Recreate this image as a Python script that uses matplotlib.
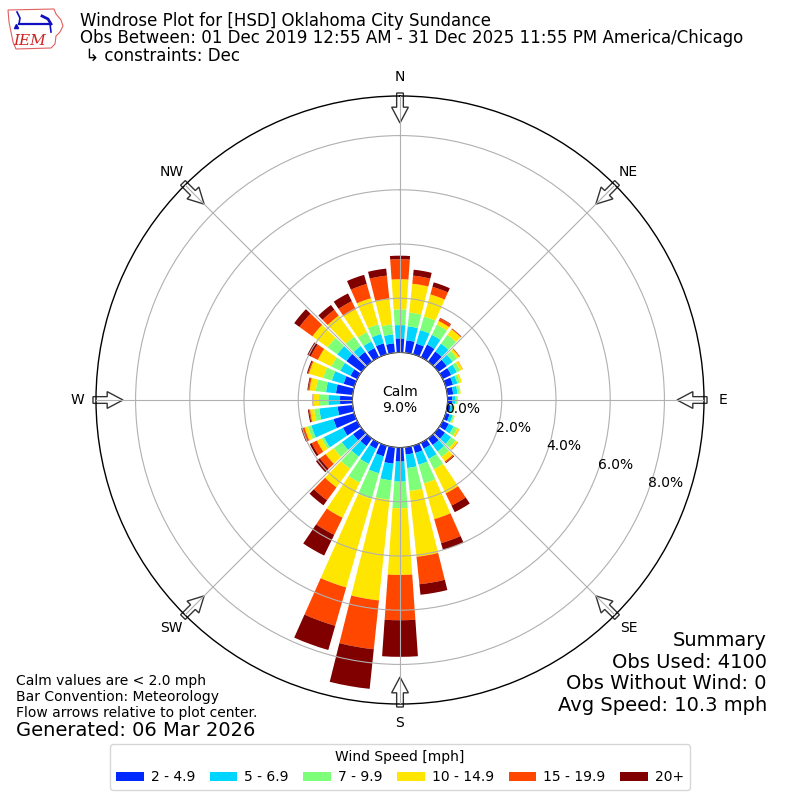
import numpy as np
import matplotlib
matplotlib.use("Agg")
import matplotlib.pyplot as plt
from matplotlib.patches import FancyArrow, Polygon

# ---------------- data (percent of observations) ----------------
directions = list(range(0, 360, 10))
speed_labels = ["2 - 4.9", "5 - 6.9", "7 - 9.9", "10 - 14.9", "15 - 19.9", "20+"]
spd_2_5 = [0.52, 0.46, 0.41, 0.52, 0.46, 0.38, 0.35, 0.28, 0.22, 0.18, 0.12, 0.15,
           0.25, 0.30, 0.30, 0.24, 0.28, 0.27, 0.52, 0.61, 0.41, 0.25, 0.35, 0.39,
           0.59, 0.80, 0.56, 0.46, 0.62, 0.41, 0.28, 0.69, 0.44, 0.38, 0.42, 0.35]
spd_5_7 = [0.49, 0.52, 0.52, 0.40, 0.36, 0.27, 0.23, 0.17, 0.16, 0.12, 0.10, 0.12,
           0.20, 0.28, 0.30, 0.42, 0.45, 0.50, 0.74, 0.62, 0.65, 0.62, 0.48, 0.51,
           0.78, 0.85, 0.68, 0.43, 0.37, 0.45, 0.42, 0.42, 0.27, 0.27, 0.36, 0.33]
spd_7_10 = [0.58, 0.51, 0.52, 0.42, 0.40, 0.20, 0.14, 0.10, 0.08, 0.05, 0.04, 0.05,
            0.15, 0.20, 0.25, 0.43, 0.72, 0.85, 0.98, 0.72, 0.98, 0.77, 0.55, 0.37,
            0.10, 0.13, 0.19, 0.35, 0.38, 0.33, 0.36, 0.44, 0.42, 0.38, 0.37, 0.37]
spd_10_15 = [1.11, 1.07, 0.85, 0.15, 0.25, 0.10, 0.10, 0.07, 0.04, 0.03, 0.02, 0.03,
             0.08, 0.10, 0.20, 0.99, 1.37, 2.44, 2.46, 3.73, 3.40, 1.44, 0.85, 0.37,
             0.19, 0.13, 0.15, 0.21, 0.23, 0.55, 0.56, 0.69, 0.96, 0.94, 1.00, 0.96]
spd_15_20 = [0.74, 0.30, 0.29, 0.11, 0.03, 0.03, 0.01, 0.00, 0.00, 0.00, 0.00, 0.00,
             0.01, 0.02, 0.05, 0.50, 0.92, 1.02, 1.67, 1.81, 1.47, 0.70, 0.59, 0.26,
             0.21, 0.07, 0.04, 0.01, 0.05, 0.04, 0.29, 0.59, 0.27, 0.33, 0.55, 0.85]
spd_20p = [0.13, 0.22, 0.17, 0.02, 0.01, 0.00, 0.00, 0.00, 0.00, 0.00, 0.00, 0.00,
           0.00, 0.00, 0.03, 0.27, 0.26, 0.39, 1.35, 1.47, 0.93, 0.85, 0.23, 0.18,
           0.08, 0.06, 0.04, 0.01, 0.03, 0.04, 0.14, 0.24, 0.22, 0.32, 0.35, 0.26]
calm_pct = 9.0
r_ticks = [0, 2, 4, 6, 8]
compass = ["N", "NE", "E", "SE", "S", "SW", "W", "NW"]

bands = [spd_2_5, spd_5_7, spd_7_10, spd_10_15, spd_15_20, spd_20p]
colors = plt.cm.jet(np.linspace(0, 1, 7)[1:])

# ---------------- figure ----------------
fig = plt.figure(figsize=(8, 8), dpi=100)
ax = fig.add_axes([0.12, 0.12, 0.76, 0.76], projection="polar")
ax.set_theta_zero_location("N")
ax.set_theta_direction(-1)

rmax = 9.46
ax.set_ylim(0, rmax)
ax.set_rorigin(-1.753)

theta = np.deg2rad(directions)
width = np.deg2rad(8.0)
bottom = np.zeros(len(directions))
handles = []
for vals, col, lab in zip(bands, colors, speed_labels):
    vals = np.asarray(vals)
    b = ax.bar(theta, vals, width=width, bottom=bottom, color=col,
               edgecolor="none", linewidth=0, label=lab, zorder=1)
    handles.append(b)
    bottom = bottom + vals

ax.set_axisbelow(False)
ax.set_rgrids(r_ticks, labels=[""] * len(r_ticks))
ax.set_thetagrids(np.arange(0, 360, 45), labels=[""] * 8)
ax.grid(True, color="#b0b0b0", linewidth=0.8)
ax.spines["polar"].set_linewidth(1.0)

# radial labels
for v in r_ticks:
    ax.text(np.deg2rad(110), v, f"{v:.1f}%", ha="left", va="bottom",
            fontsize=10, zorder=5)

# compass labels and arrows
for i, lab in enumerate(compass):
    ang = np.deg2rad(i * 45)
    ax.text(ang, 10.16, lab, ha="center", va="center", fontsize=10, clip_on=False)
    f0 = 307 / 608.0
    f1 = 277 / 608.0
    x0 = 0.5 + f0 * np.sin(ang)
    y0 = 0.5 + f0 * np.cos(ang)
    x1 = 0.5 + f1 * np.sin(ang)
    y1 = 0.5 + f1 * np.cos(ang)
    arr = FancyArrow(x0, y0, x1 - x0, y1 - y0, width=0.011, head_width=0.0275,
                     head_length=0.026, length_includes_head=True,
                     transform=ax.transAxes, fc="white", ec="#333333", lw=1.0,
                     clip_on=False, zorder=2)
    ax.add_artist(arr)

ax.text(0.5, 0.5, f"Calm\n{calm_pct:.1f}%", transform=ax.transAxes,
        ha="center", va="center", fontsize=10, zorder=6)

# ---------------- texts ----------------
def fy(px):
    return 1 - px / 800.0

fig.text(80 / 800, fy(26), "Windrose Plot for [HSD] Oklahoma City Sundance",
         fontsize=12, va="baseline")
fig.text(80 / 800, fy(43), "Obs Between: 01 Dec 2019 12:55 AM - 31 Dec 2025 11:55 PM America/Chicago",
         fontsize=12, va="baseline")
fig.text(80 / 800, fy(61), " \u21b3 constraints: Dec", fontsize=12, va="baseline")

fig.text(16 / 800, fy(685), "Calm values are < 2.0 mph", fontsize=10, va="baseline")
fig.text(16 / 800, fy(701), "Bar Convention: Meteorology", fontsize=10, va="baseline")
fig.text(16 / 800, fy(717), "Flow arrows relative to plot center.", fontsize=10, va="baseline")
fig.text(16 / 800, fy(736), "Generated: 06 Mar 2026", fontsize=14, va="baseline")

summary = ["Summary", "Obs Used: 4100", "Obs Without Wind: 0", "Avg Speed: 10.3 mph"]
for k, s in enumerate(summary):
    fig.text(767 / 800, fy(646 + 21.7 * k), s, fontsize=14, ha="right", va="baseline")

leg = fig.legend(handles=handles, labels=speed_labels, loc="lower center",
                 bbox_to_anchor=(0.5, 10 / 800), ncol=6, title="Wind Speed [mph]",
                 fontsize=10, title_fontsize=10, borderaxespad=0,
                 columnspacing=1.05, handletextpad=0.5)

# ---------------- logo ----------------
lax = fig.add_axes([4 / 800, 1 - 50 / 800, 62 / 800, 46 / 800])
lax.set_xlim(0, 62)
lax.set_ylim(46, 0)
lax.axis("off")
outline = [(4, 6), (50, 5), (52, 10), (57, 16), (59, 22), (56, 28), (52, 32),
           (51, 40), (47, 44), (12, 45), (9, 38), (7, 28), (5, 18)]
lax.add_patch(Polygon(outline, closed=True, fill=False, ec="#e06060", lw=0.8))
lax.plot([15, 46], [20, 20], color="#1010c0", lw=1.6)
lax.plot([13, 16, 15], [8, 14, 20], color="#1010c0", lw=1.2)
lax.plot([38, 44, 47], [12, 15, 20], color="#1010c0", lw=2.0)
lax.plot([46, 47], [20, 28], color="#1010c0", lw=1.2)
lax.plot([12], [22], marker="^", color="#1010c0", ms=3)
lax.text(26, 37, "IEM", color="#d02020", fontsize=11, family="DejaVu Serif",
         style="italic", ha="center", va="center")

fig.savefig("out.png", dpi=100)
